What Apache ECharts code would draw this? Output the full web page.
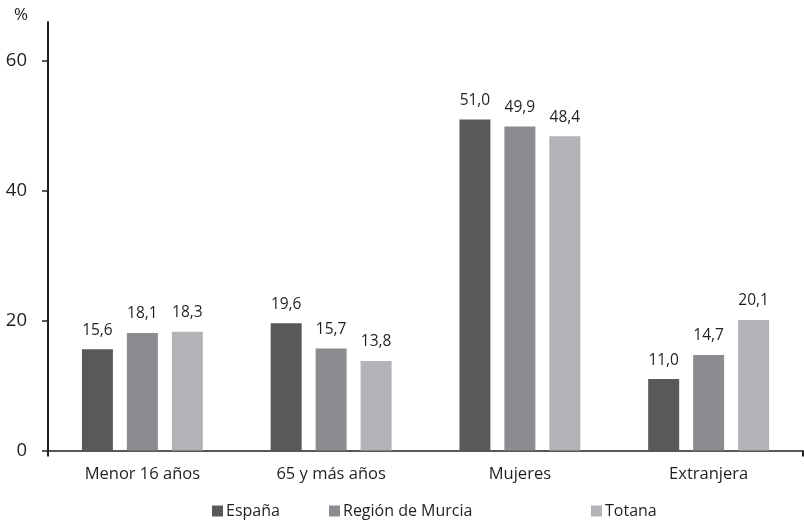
<!DOCTYPE html>
<html>
<head>
<meta charset="utf-8">
<script src="https://cdn.jsdelivr.net/npm/echarts@6/dist/echarts.min.js"></script>
<style>
  html, body { margin: 0; padding: 0; background: #ffffff; }
  #chart { width: 804px; height: 520px; }
</style>
</head>
<body>
<div id="chart"></div>
<script>
// Population indicators (%): España, Región de Murcia, Totana
const categories = ['Menor 16 años', '65 y más años', 'Mujeres', 'Extranjera'];
const espana = [15.6, 19.6, 51.0, 11.0];
const murcia = [18.1, 15.7, 49.9, 14.7];
const totana = [18.3, 13.8, 48.4, 20.1];
const yTicks = [0, 20, 40, 60];

const FONT = '"Open Sans", "Noto Sans", sans-serif';
const INK = '#231f20';
const colors = ['#58595b', '#8b8c8f', '#b2b3b6'];

const fmt = v => v.toFixed(1).replace('.', ',');

function barSeries(name, data, color) {
  return {
    name: name,
    type: 'bar',
    data: data,
    barWidth: 31,
    barGap: '45%',
    itemStyle: { color: color },
    label: {
      show: true,
      position: 'top',
      distance: 11,
      color: INK,
      fontFamily: FONT,
      fontSize: 15.5,
      formatter: p => fmt(p.value)
    }
  };
}

function legendAt(name, left) {
  return {
    data: [name],
    left: left,
    top: 503,
    icon: 'rect',
    itemWidth: 11,
    itemHeight: 11,
    itemGap: 3,
    padding: 0,
    selectedMode: false,
    textStyle: { color: INK, fontFamily: FONT, fontSize: 16, padding: [0, 0, 0, -2] }
  };
}

const chart = echarts.init(document.getElementById('chart'), null, { renderer: 'canvas' });
chart.setOption({
  animation: false,
  backgroundColor: '#ffffff',
  title: {
    text: '%',
    left: 9,
    top: 2,
    textStyle: { color: INK, fontFamily: FONT, fontSize: 17, fontWeight: 'normal' }
  },
  grid: { left: 48, right: 1, top: 22, bottom: 69.5, containLabel: false },
  legend: [
    legendAt('España', 212),
    legendAt('Región de Murcia', 329),
    legendAt('Totana', 591)
  ],
  xAxis: {
    type: 'category',
    data: categories,
    boundaryGap: true,
    axisLine: { show: true, lineStyle: { color: INK, width: 1.5 } },
    axisTick: {
      show: true,
      length: 6,
      interval: (idx) => idx === 0,
      lineStyle: { color: INK, width: 2 }
    },
    axisLabel: { color: INK, fontFamily: FONT, fontSize: 16.5, margin: 15 },
    splitLine: { show: false }
  },
  yAxis: {
    type: 'value',
    min: 0,
    max: 66,
    interval: 20,
    axisLine: { show: true, lineStyle: { color: INK, width: 2 } },
    axisTick: { show: true, length: 6, customValues: yTicks, lineStyle: { color: INK, width: 1.5 } },
    axisLabel: { color: INK, fontFamily: FONT, fontSize: 18.5, margin: 21, customValues: yTicks },
    splitLine: { show: false }
  },
  series: [
    barSeries('España', espana, colors[0]),
    barSeries('Región de Murcia', murcia, colors[1]),
    barSeries('Totana', totana, colors[2])
  ]
});
</script>
</body>
</html>
